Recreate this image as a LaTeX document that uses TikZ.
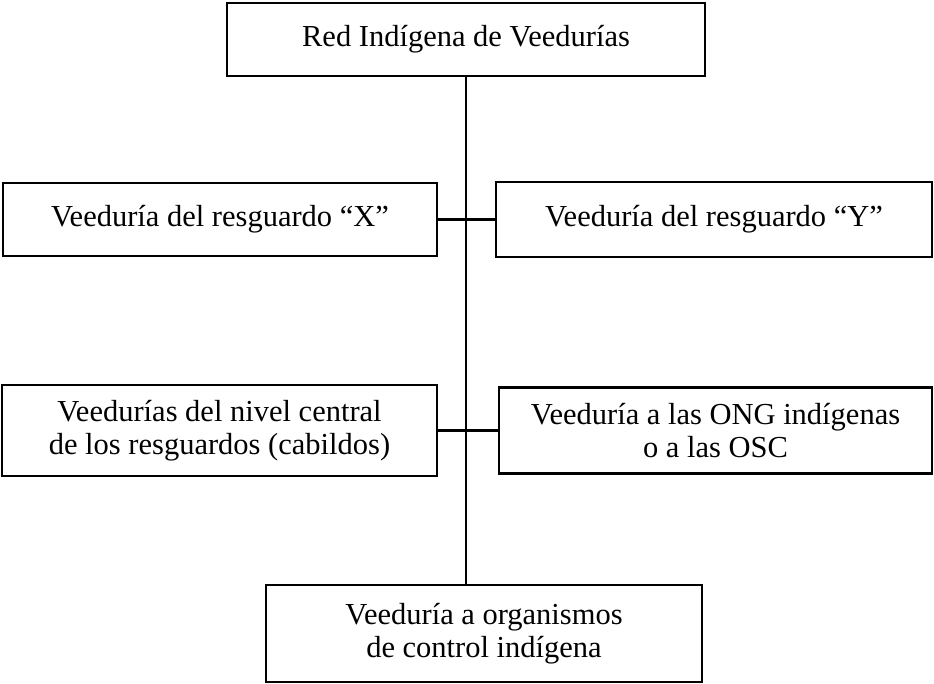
\documentclass[tikz,border=0pt]{standalone}
\usepackage{fontspec}
\setmainfont{Liberation Serif}
\usetikzlibrary{positioning}

\begin{document}
\begin{tikzpicture}[x=1pt, y=-1pt,
    caja/.style={draw, line width=2.4pt, align=center, inner sep=0pt,
                 font=\fontsize{30.5}{33}\selectfont},
    linea/.style={line width=2.4pt}]
    \useasboundingbox (0,0) rectangle (934,683);

    % nivel superior
    \node[caja, minimum width=478pt, minimum height=73pt] (red) at (466,39.5) {Red Indígena de Veedurías};

    % resguardos
    \node[caja, minimum width=434pt, minimum height=73pt] (resx) at (220,219.5) {Veeduría del resguardo “X”};
    \node[caja, minimum width=436pt, minimum height=75pt] (resy) at (714,219.5) {\raisebox{4pt}{Veeduría del resguardo “Y”}};

    % nivel central y ONG
    \node[caja, minimum width=435pt, minimum height=91pt] (central) at (219.5,430.5) {Veedurías del nivel central\\de los resguardos (cabildos)};
    \node[caja, minimum width=433pt, minimum height=86pt] (ong) at (715.5,430.5) {Veeduría a las ONG indígenas\\o a las OSC};

    % organismos de control
    \node[caja, minimum width=436pt, minimum height=97pt] (control) at (484,633.5) {Veeduría a organismos\\de control indígena};

    % conectores
    \draw[linea] (red.south) -- (red.south |- control.north);
    \draw[linea] (resx.east) -- (resy.west);
    \draw[linea] (central.east) -- (ong.west);
\end{tikzpicture}
\end{document}
